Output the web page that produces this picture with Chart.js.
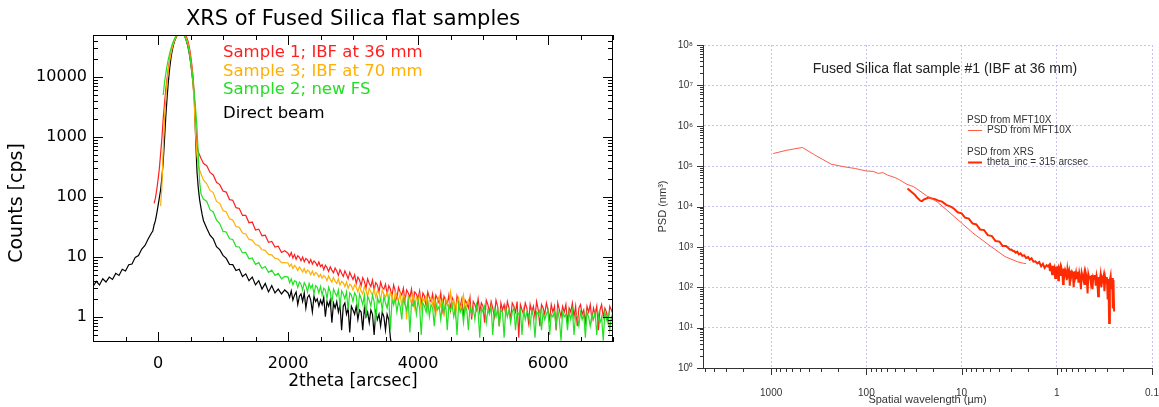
<!DOCTYPE html>
<html lang="en">
<head>
<meta charset="UTF-8">
<title>XRS / PSD of Fused Silica flat samples</title>
<script src="https://cdn.jsdelivr.net/npm/chart.js"></script>
<style>
  body { margin: 0; background: #fff; width: 1159px; height: 407px; overflow: hidden; position: relative; }
  #boxXrs { position: absolute; left: 0; top: 0; width: 630px; height: 407px; }
  #boxPsd { position: absolute; left: 640px; top: 0; width: 519px; height: 407px; }
</style>
</head>
<body>
<div id="boxXrs"><canvas id="chartXrs" width="630" height="407"></canvas></div>
<div id="boxPsd"><canvas id="chartPsd" width="519" height="407"></canvas></div>

<script>
// ---------- left panel: XRS scans (2theta in arcsec, counts in cps) ----------
const xrsTitle = 'XRS of Fused Silica flat samples';
const thetaTicks = [0, 2000, 4000, 6000];
const countTicks = [1, 10, 100, 1000, 10000];

const theta = [
  -1000,-950,-900,-850,-800,-750,-700,-650,-600,-550,-500,-450,-400,-350,-300,-250,-200,-150,-100,
  -80,-60,-40,-20,0,20,40,60,80,100,
  120,140,160,180,200,220,240,260,280,300,
  320,340,360,380,400,420,440,460,480,500,
  520,540,560,580,600,620,640,660,680,700,
  750,800,850,900,950,1000,1050,1100,1150,1200,
  1250,1300,1350,1400,1450,1500,1550,1600,1650,1700,
  1750,1800,1850,1900,1950,
  2000,2025,2050,2075,2100,2125,2150,2175,2200,2225,2250,2275,2300,2325,2350,2375,2400,2425,2450,2475,
  2500,2525,2550,2575,2600,2625,2650,2675,2700,2725,2750,2775,2800,2825,2850,2875,2900,2925,2950,2975,
  3000,3025,3050,3075,3100,3125,3150,3175,3200,3225,3250,3275,3300,3325,3350,3375,3400,3425,3450,3475,
  3500,3525,3550,3575,3600,3625,3650,3675,3700,3725,3750,3775,3800,3825,3850,3875,3900,3925,3950,3975,
  4000,4025,4050,4075,4100,4125,4150,4175,4200,4225,4250,4275,4300,4325,4350,4375,4400,4425,4450,4475,
  4500,4525,4550,4575,4600,4625,4650,4675,4700,4725,4750,4775,4800,4825,4850,4875,4900,4925,4950,4975,
  5000,5025,5050,5075,5100,5125,5150,5175,5200,5225,5250,5275,5300,5325,5350,5375,5400,5425,5450,5475,
  5500,5525,5550,5575,5600,5625,5650,5675,5700,5725,5750,5775,5800,5825,5850,5875,5900,5925,5950,5975,
  6000,6025,6050,6075,6100,6125,6150,6175,6200,6225,6250,6275,6300,6325,6350,6375,6400,6425,6450,6475,
  6500,6525,6550,6575,6600,6625,6650,6675,6700,6725,6750,6775,6800,6825,6850,6875,6900,6925,6950,6975,
  7000
];

// counts on the theta grid; null before a scan starts, the array simply stops where the scan ends
const sample1 = [
  null,null,null,null,null,null,null,null,null,null,null,null,null,null,null,null,null,null,null,
  null,78,95,130,190,290,520,950,2000,3600,
  6200,9500,14000,19500,25000,31000,37000,42000,47000,51000,
  54000,56000,57000,57000,55000,51000,46000,40000,32000,24000,
  16000,10000,4500,1500,700,560,500,440,400,360,
  330,255,232,175,160,125,120,90,88,66,
  64,49,49,37,38,28,29,22.5,23,17.5,
  18,14.5,15,11.8,12.6,
  11.5,10.2,11.8,9.6,10.9,9.1,10.4,9.8,8.6,9.9,8.3,9.4,8.9,7.8,9.0,7.6,8.5,8.0,7.1,8.2,
  6.9,7.4,6.1,7.2,6.6,5.7,6.8,6.0,5.4,6.5,5.8,4.9,6.1,5.3,4.7,5.8,5.1,4.3,5.5,4.8,
  4.2,5.0,3.6,4.6,4.1,3.3,4.5,3.9,3.0,4.3,3.6,3.2,4.1,2.8,3.7,3.4,2.6,3.8,3.1,2.9,
  3.5,2.4,3.3,2.9,2.2,3.4,2.7,2.0,3.1,2.6,2.3,3.0,1.8,2.8,2.5,2.1,2.9,1.7,2.6,2.4,
  2.0,2.7,1.6,2.5,2.2,1.5,2.6,2.1,1.8,2.4,1.4,2.3,2.0,1.7,2.5,1.3,2.2,1.9,1.6,2.3,
  1.3,2.1,1.8,1.1,2.2,1.7,1.5,2.0,1.0,1.9,1.7,1.4,2.1,0.9,1.8,1.6,1.3,2.0,1.2,1.7,
  1.5,0.8,1.9,1.6,1.2,1.8,1.4,1.0,1.9,1.5,0.7,1.7,1.3,1.6,1.1,1.8,1.4,0.9,1.7,1.5,
  1.2,1.8,0.45,1.6,1.3,1.1,1.7,1.4,0.8,1.6,1.2,1.5,1.0,1.8,1.3,0.7,1.6,1.4,1.1,1.7,
  1.3,0.9,1.6,1.2,1.5,0.6,1.7,1.3,1.0,1.5,1.2,1.6,0.8,1.4,1.2,1.7,1.0,1.5,0.7,1.4,
  1.6,1.1,1.3,0.8,1.5,1.2,1.6,0.9,1.4,1.1,1.5,0.6,1.3,1.6,1.0,1.4,1.2,0.8,1.5,1.3,
  1.1
];

const sample3 = [
  null,null,null,null,null,null,null,null,null,null,null,null,null,null,null,null,null,null,null,
  null,null,null,null,null,null,70,150,600,2000,
  4500,8500,13000,19000,25000,31000,37000,42000,47000,51000,
  54000,56000,56000,55000,52000,48000,42000,36000,28000,20000,
  13000,7500,3000,1000,480,330,280,245,215,190,
  165,128,118,84,78,59,56,43,41,32,
  31,25,24,19.5,19,16,15.4,13.1,12.8,11,
  10.8,9.4,9.2,8.0,8.0,
  7.9,6.9,7.6,6.4,7.2,6.7,5.9,6.8,6.2,5.6,6.4,5.4,6.0,5.7,5.0,5.8,4.9,5.5,5.2,4.6,
  5.1,4.4,4.9,4.6,4.0,4.8,4.2,3.8,4.5,3.9,3.6,4.3,3.4,3.9,3.7,3.2,3.8,3.0,3.5,3.3,
  2.8,3.4,3.1,2.6,3.3,2.7,2.4,3.2,2.8,2.2,3.0,2.6,2.3,2.9,2.1,2.7,2.5,1.9,2.8,2.4,
  2.1,2.6,1.8,2.5,2.3,1.6,2.6,2.2,1.9,2.4,1.5,2.3,2.1,0.9,2.2,2.0,1.7,2.4,1.4,2.1,
  1.9,2.3,1.3,2.0,1.8,2.2,1.2,1.9,2.1,1.6,2.0,1.1,1.8,2.2,1.5,1.9,1.0,2.0,1.7,1.4,
  2.6,1.6,1.9,1.1,1.8,2.1,1.3,1.7,2.3,1.2,1.6,1.9,1.5
];

const sample2 = [
  null,null,null,null,null,null,null,null,null,null,null,null,null,null,null,null,null,null,null,
  null,null,null,null,null,null,null,null,5000,8000,
  11500,15500,20000,25000,30000,35000,40000,45000,49000,53000,
  56000,57000,56000,54000,50000,45000,39000,33000,26000,19000,
  13000,8500,5000,2800,1400,500,180,115,100,92,
  84,61,56,41,36,26.5,26,20,19.5,14.8,
  14.6,11.6,11.8,9.3,9.6,7.5,8.0,6.4,6.9,5.5,
  6.0,4.9,5.3,4.3,4.7,
  4.6,3.7,4.3,3.4,4.0,3.9,3.1,3.8,3.5,2.8,3.7,3.3,2.6,3.6,3.0,3.4,2.4,3.3,3.1,2.5,
  3.2,2.3,3.0,2.8,2.0,3.1,2.6,1.7,2.9,2.5,2.2,2.8,1.5,2.7,2.4,2.0,2.6,1.3,2.5,2.3,
  1.8,2.5,2.2,1.2,2.4,2.0,1.6,2.3,1.0,2.2,1.9,1.5,2.3,1.8,0.8,2.1,1.7,2.0,1.3,2.2,
  1.7,1.4,2.1,0.6,1.9,1.6,2.0,1.2,1.8,1.5,0.9,2.0,1.6,1.3,1.9,0.55,1.7,1.5,1.8,1.1,
  1.9,1.4,0.5,1.7,1.5,1.2,1.8,1.0,1.6,1.4,0.7,1.7,1.3,1.5,0.9,1.6,1.2,1.7,0.6,1.5,
  1.3,1.6,1.0,1.4,0.5,1.6,1.2,1.4,0.8,1.5,1.3,0.6,1.5,1.1,1.4,0.9,1.6,1.2,0.45,1.4,
  1.2,1.5,0.8,1.3,1.1,1.5,0.5,1.3,1.0,1.4,0.7,1.3,1.2,0.45,1.4,1.0,1.3,0.8,1.2,1.4,
  0.6,1.2,1.1,1.3,0.5,1.3,0.9,1.2,1.1,0.7,1.3,1.0,0.45,1.2,1.1,1.3,0.6,1.2,0.9,1.1,
  1.3,0.5,1.1,1.0,1.2,0.7,1.3,0.9,0.4,1.2,1.0,1.1,0.6,1.2,0.9,1.3,0.5,1.1,1.0,0.7,
  1.2,0.9,1.1,0.45,1.2,1.0,0.7,1.1,0.9,1.2,0.5,1.1,0.8,1.0,0.4,1.2,0.9,1.1,0.6,1.0,
  0.8
];

const directBeam = [
  3.2,3.9,3.4,4.3,3.8,4.6,4.2,5.3,4.9,6.2,5.8,7.4,7.6,9.8,10.5,13.5,15.5,20,25,
  27,34,40,52,70,95,130,210,380,900,
  2200,4500,8500,14000,21000,28000,35000,41000,46000,50000,
  53000,55000,55000,53000,50000,45000,39000,32000,25000,18000,
  12000,7500,4000,900,260,140,90,66,50,40,
  30,23,20,14.8,13.2,10.6,9.4,7.5,7.4,5.9,
  6.2,4.7,5.2,4.0,4.6,3.4,4.0,2.9,3.6,2.6,
  3.3,2.5,2.9,2.4,2.8,
  2.5,2.1,2.7,1.9,2.3,2.6,1.6,2.2,2.4,1.8,2.5,1.4,2.1,2.3,1.9,1.2,2.2,1.8,2.0,1.5,
  1.9,1.6,2.1,1.0,1.8,1.5,1.9,0.8,1.7,1.4,1.8,1.2,1.6,0.6,1.5,1.7,1.1,1.4,0.55,1.5,
  1.3,1.1,1.5,0.9,1.3,1.2,0.6,1.4,1.0,1.2,0.8,1.3,1.1,0.5,1.2,0.9,1.1,0.7,1.2,1.0,
  0.6,1.1,0.9,0.45,0.3
];

// ---------- right panel: PSD (spatial wavelength in um, PSD in nm^3) ----------
const psdTitle = 'Fused Silica flat sample #1 (IBF at 36 mm)';
const wavelengthTicks = [1000, 100, 10, 1, 0.1];
const psdTicks = [1, 10, 100, 1000, 10000, 100000, 1000000, 10000000, 100000000];

const mftWavelength = [950,700,470,350,235,170,130,101,85,75,67,60,50,45,38,32,28,23.3,18,14.5,10,7.6,5,3.5,2.6,2.25,2.1];
const mftPsd = [2.05e5,2.45e5,2.9e5,1.9e5,1.12e5,9.6e4,8.7e4,7.6e4,7.4e4,6.6e4,6.9e4,6.0e4,5.2e4,4.6e4,3.6e4,3.1e4,2.5e4,1.84e4,1.3e4,8.4e3,3.9e3,2.2e3,1.05e3,575,430,393,385];

const xrsWavelength = [
  37,34,31,29,27,26,25,23.5,22,20.5,19,17.5,16,14.5,13,12,11,10,9.2,8.4,
  7.7,7.0,6.4,5.8,5.3,4.8,4.4,4.0,3.7,3.4,3.1,
  3.0,2.9,2.8,2.7,2.6,2.5,2.4,2.3,2.2,2.1,2.0,1.92,1.84,1.76,1.68,1.6,1.53,1.46,1.4,1.34,1.28,1.24,
  1.2,1.18,1.16,1.14,1.12,1.10,1.08,1.06,1.04,1.02,
  1.0,0.98,0.965,0.95,0.935,0.92,0.905,0.89,0.875,0.86,
  0.845,0.83,0.815,0.80,0.786,0.772,0.758,0.744,0.73,0.717,
  0.704,0.691,0.678,0.665,0.652,0.64,0.628,0.616,0.604,0.592,
  0.58,0.569,0.558,0.547,0.536,0.525,0.515,0.505,0.495,0.485,
  0.475,0.466,0.457,0.448,0.439,0.43,0.422,0.414,0.406,0.398,
  0.39,0.382,0.375,0.368,0.361,0.354,0.347,0.34,0.334,0.328,
  0.322,0.316,0.31,0.304,0.298,0.292,0.287,0.282,0.277,0.272,
  0.267,0.262,0.258,0.254,0.25
];
const xrsPsd = [
  2.8e4,2.35e4,1.95e4,1.62e4,1.38e4,1.36e4,1.48e4,1.58e4,1.66e4,1.58e4,1.52e4,1.40e4,1.32e4,1.10e4,9.9e3,8.8e3,7.2e3,6.8e3,5.3e3,5.0e3,
  3.8e3,3.6e3,2.7e3,2.6e3,1.95e3,1.85e3,1.4e3,1.35e3,1.05e3,1.05e3,850,
  860,800,780,720,760,650,690,600,620,530,560,480,520,430,440,390,420,330,380,300,350,330,
  360,250,330,290,210,340,260,300,170,320,
  240,330,150,290,260,310,190,280,230,120,
  290,200,270,240,150,280,210,250,110,260,
  190,240,220,100,250,180,230,160,240,130,
  220,170,90,230,190,150,210,120,220,180,
  70,210,170,190,130,200,90,180,160,200,
  110,190,150,60,180,140,200,100,170,150,
  190,80,170,130,180,50,160,13,150,190,
  90,170,30,150,25
];

function toPoints(xs, ys) {
  const pts = [];
  for (let i = 0; i < xs.length && i < ys.length; i++) {
    if (ys[i] !== null) pts.push({ x: xs[i], y: ys[i] });
  }
  return pts;
}

// no edge padding for the tick labels, the plot boxes are placed by hand
function noLabelPadding(s) {
  s.paddingLeft = 0; s.paddingRight = 0; s.paddingTop = 0; s.paddingBottom = 0;
}

const IDL_FONT = '"DejaVu Sans", sans-serif';
const ARIAL = '"Liberation Sans", Arial, sans-serif';

// IDL style box: frame all round, ticks pointing inward on all four sides, labels and legend
const idlBox = {
  id: 'idlBox',
  afterDraw(chart) {
    const { ctx, chartArea: a, scales: { x, y } } = chart;
    ctx.save();
    ctx.strokeStyle = '#000';
    ctx.lineWidth = 1;
    ctx.strokeRect(a.left + 0.5, a.top + 0.5, a.right - a.left - 1, a.bottom - a.top - 1);
    ctx.beginPath();
    for (let v = x.min; v <= x.max; v += 500) {
      const px = Math.round(x.getPixelForValue(v)) + 0.5;
      const len = thetaTicks.includes(v) ? 10 : 5;
      ctx.moveTo(px, a.bottom); ctx.lineTo(px, a.bottom - len);
      ctx.moveTo(px, a.top); ctx.lineTo(px, a.top + len);
    }
    for (let e = -1; e <= 4; e++) {
      for (let m = 1; m <= 9; m++) {
        const v = Math.pow(10, e) * m;
        if (v < y.min || v > y.max) continue;
        const py = Math.round(y.getPixelForValue(v)) + 0.5;
        const len = m === 1 ? 10 : 5;
        ctx.moveTo(a.left, py); ctx.lineTo(a.left + len, py);
        ctx.moveTo(a.right, py); ctx.lineTo(a.right - len, py);
      }
    }
    ctx.stroke();

    ctx.fillStyle = '#000';
    ctx.textBaseline = 'middle';
    ctx.textAlign = 'center';
    ctx.font = '21px ' + IDL_FONT;
    ctx.fillText(xrsTitle, (a.left + a.right) / 2, 20);

    ctx.save();
    ctx.translate(17, 203);
    ctx.rotate(-Math.PI / 2);
    ctx.font = '19px ' + IDL_FONT;
    ctx.fillText('Counts [cps]', 0, 0);
    ctx.restore();

    // legend rows, in the order of the datasets
    const rowY = [53, 72, 90, 114];
    ctx.textAlign = 'left';
    ctx.font = '16.5px ' + IDL_FONT;
    chart.data.datasets.forEach((ds, i) => {
      ctx.fillStyle = ds.borderColor;
      ctx.fillText(ds.label, 223, rowY[i]);
    });
    ctx.restore();
  }
};

new Chart(document.getElementById('chartXrs'), {
  type: 'line',
  data: {
    datasets: [
      { label: 'Sample 1; IBF at 36 mm', data: toPoints(theta, sample1), borderColor: '#ff1f1f', order: 2 },
      { label: 'Sample 3; IBF at 70 mm', data: toPoints(theta, sample3), borderColor: '#ffb000', order: 1 },
      { label: 'Sample 2; new FS', data: toPoints(theta, sample2), borderColor: '#22e022', order: 0 },
      { label: 'Direct beam', data: toPoints(theta, directBeam), borderColor: '#000000', order: 3 }
    ]
  },
  options: {
    responsive: false,
    animation: false,
    layout: { padding: { left: 0, right: 17, top: 35, bottom: 0 } },
    elements: { point: { radius: 0 }, line: { borderWidth: 1.2, tension: 0 } },
    plugins: { legend: { display: false }, tooltip: { enabled: false } },
    scales: {
      x: {
        type: 'linear',
        min: -1000,
        max: 7000,
        afterBuildTicks: s => { s.ticks = thetaTicks.map(v => ({ value: v })); },
        afterFit: s => { s.height = 65; noLabelPadding(s); },
        grid: { display: false, drawTicks: false },
        border: { display: false },
        ticks: { padding: 12, autoSkip: false, maxRotation: 0, color: '#000',
                 font: { family: IDL_FONT, size: 16 }, callback: v => String(v) },
        title: { display: true, text: '2theta [arcsec]', color: '#000',
                 font: { family: IDL_FONT, size: 17 }, padding: { top: 0, bottom: 15 } }
      },
      y: {
        type: 'logarithmic',
        min: 0.38,
        max: 50000,
        afterBuildTicks: s => { s.ticks = countTicks.map(v => ({ value: v })); },
        afterFit: s => { s.width = 93; noLabelPadding(s); },
        grid: { display: false, drawTicks: false },
        border: { display: false },
        ticks: { padding: 6, autoSkip: false, color: '#000',
                 font: { family: IDL_FONT, size: 16 }, callback: v => String(v) }
      }
    }
  },
  plugins: [idlBox]
});

// ---------- right panel ----------
const SUP = ['\u2070', '\u00b9', '\u00b2', '\u00b3', '\u2074', '\u2075', '\u2076', '\u2077', '\u2078', '\u2079'];

const psdFrame = {
  id: 'psdFrame',
  afterDraw(chart) {
    const { ctx, chartArea: a, scales: { x, y } } = chart;
    ctx.save();
    ctx.strokeStyle = '#333';
    ctx.lineWidth = 1;
    ctx.beginPath();
    for (let e = -1; e <= 3; e++) {
      for (let m = 1; m <= 9; m++) {
        const v = Math.pow(10, e) * m;
        if (v < x.min || v > x.max) continue;
        const px = Math.round(x.getPixelForValue(v)) + 0.5;
        ctx.moveTo(px, a.bottom); ctx.lineTo(px, a.bottom + (m === 1 ? 7 : 4));
      }
    }
    for (let e = 0; e <= 8; e++) {
      for (let m = 1; m <= 9; m++) {
        const v = Math.pow(10, e) * m;
        if (v > y.max) continue;
        const py = Math.round(y.getPixelForValue(v)) + 0.5;
        ctx.moveTo(a.left, py); ctx.lineTo(a.left - (m === 1 ? 6 : 3), py);
      }
    }
    ctx.stroke();

    ctx.fillStyle = '#222';
    ctx.textBaseline = 'middle';
    ctx.textAlign = 'center';
    ctx.font = '14px ' + ARIAL;
    ctx.fillText(psdTitle, 305, 69);

    // legend: group header, then sample line and series label
    const rows = [[120, 130], [152, 162]];
    ctx.textAlign = 'left';
    ctx.font = '10px ' + ARIAL;
    chart.data.datasets.forEach((d, i) => {
      const [hy, ly] = rows[i];
      ctx.fillStyle = '#333';
      ctx.fillText(d.group, 327, hy);
      ctx.fillText(d.label, 347, ly);
      ctx.strokeStyle = d.borderColor;
      ctx.lineWidth = d.borderWidth;
      ctx.beginPath();
      ctx.moveTo(328, ly + 0.5); ctx.lineTo(342, ly + 0.5);
      ctx.stroke();
    });
    ctx.restore();
  }
};

new Chart(document.getElementById('chartPsd'), {
  type: 'line',
  data: {
    datasets: [
      { label: 'PSD from MFT10X', group: 'PSD from MFT10X', data: toPoints(mftWavelength, mftPsd),
        borderColor: '#ff5a4a', borderWidth: 1 },
      { label: 'theta_inc = 315 arcsec', group: 'PSD from XRS', data: toPoints(xrsWavelength, xrsPsd),
        borderColor: '#ff2a00', borderWidth: 2 }
    ]
  },
  options: {
    responsive: false,
    animation: false,
    layout: { padding: { left: 0, right: 7, top: 45, bottom: 0 } },
    elements: { point: { radius: 0 }, line: { tension: 0 } },
    plugins: { legend: { display: false }, tooltip: { enabled: false } },
    scales: {
      x: {
        type: 'logarithmic',
        reverse: true,
        min: 0.1,
        max: 5200,
        afterBuildTicks: s => { s.ticks = wavelengthTicks.map(v => ({ value: v })); },
        afterFit: s => { s.height = 39; noLabelPadding(s); },
        grid: { color: '#c4c4f4', drawTicks: false },
        border: { display: true, color: '#333', width: 1, dash: [2, 2] },
        ticks: { padding: 19, autoSkip: false, maxRotation: 0, color: '#333',
                 font: { family: ARIAL, size: 10 }, callback: v => String(v) },
        title: { display: true, text: 'Spatial wavelength (\u00b5m)', color: '#333',
                 font: { family: ARIAL, size: 11 }, padding: { top: 0, bottom: 0 } }
      },
      y: {
        type: 'logarithmic',
        min: 1,
        max: 1e8,
        afterBuildTicks: s => { s.ticks = psdTicks.map(v => ({ value: v })); },
        afterFit: s => { s.width = 63; noLabelPadding(s); },
        grid: { color: '#c4c4f4', drawTicks: false },
        border: { display: true, color: '#333', width: 1, dash: [2, 2] },
        ticks: { padding: 10, autoSkip: false, color: '#333', font: { family: ARIAL, size: 10 },
                 callback: v => '10' + SUP[Math.round(Math.log10(v))] },
        title: { display: true, text: 'PSD (nm\u00b3)', color: '#333',
                 font: { family: ARIAL, size: 11 }, padding: { top: 16, bottom: 0 } }
      }
    }
  },
  plugins: [psdFrame]
});
</script>
</body>
</html>
